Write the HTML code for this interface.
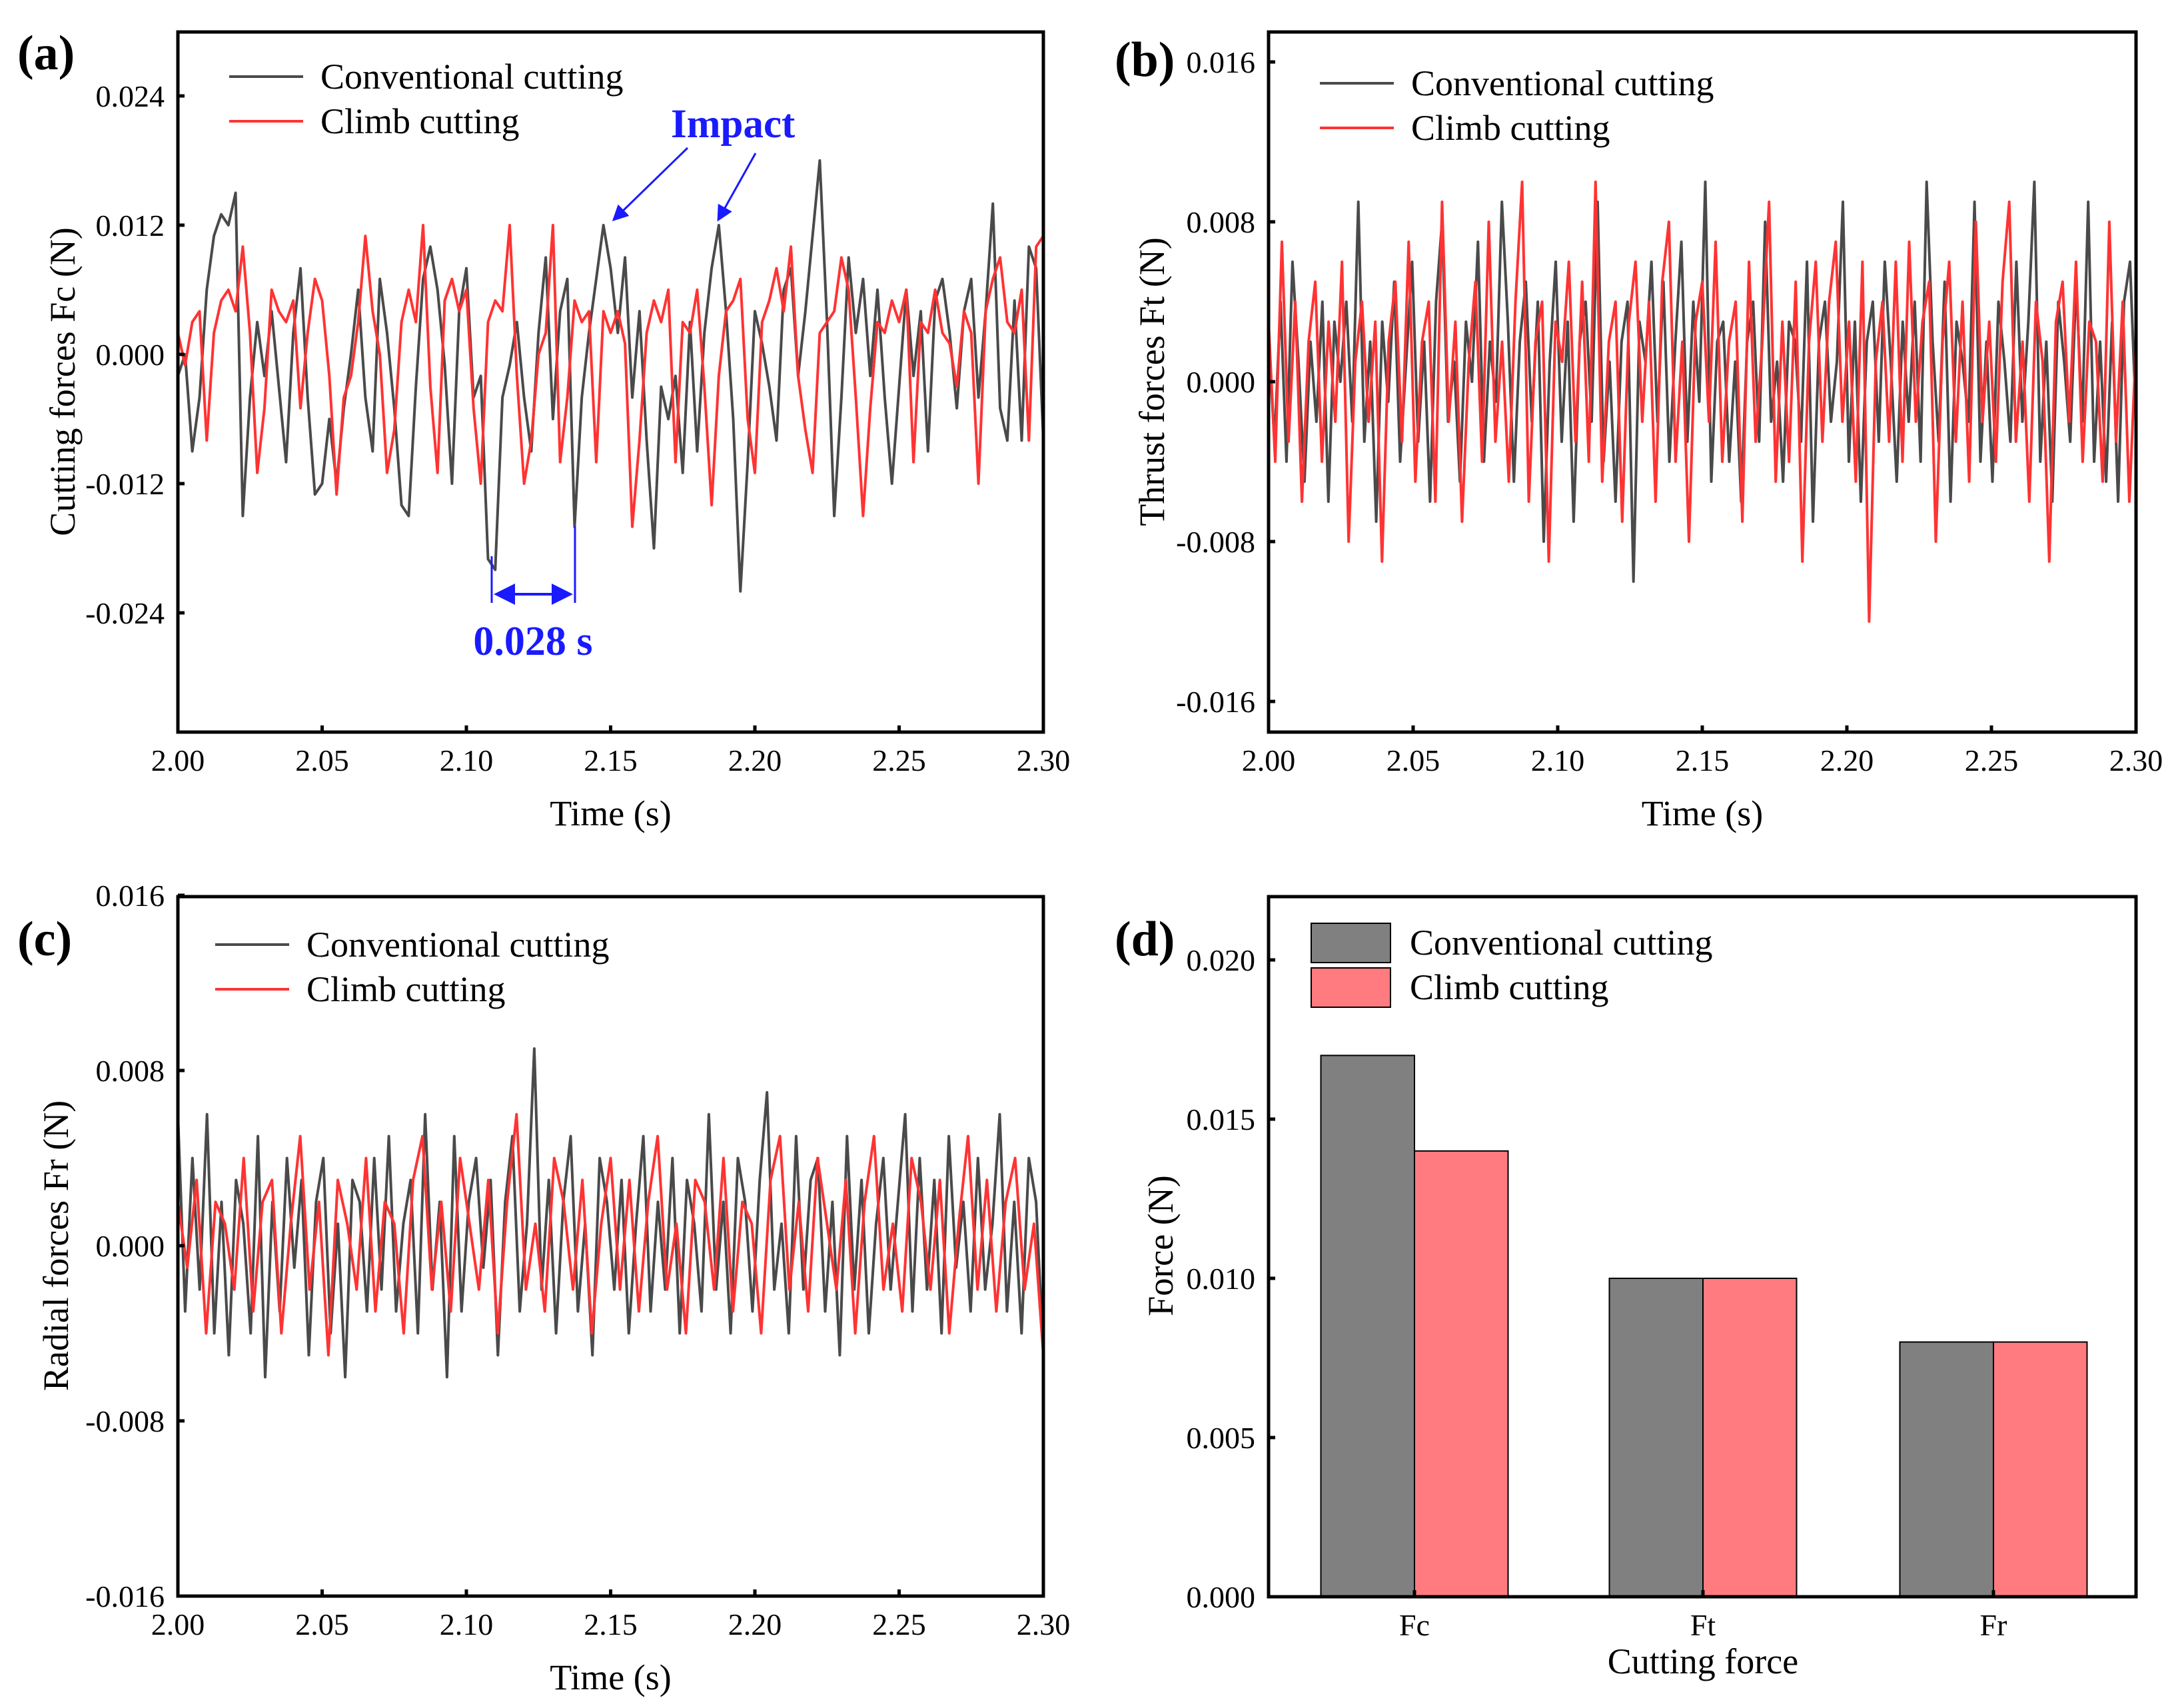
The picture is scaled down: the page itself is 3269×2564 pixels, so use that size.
<!DOCTYPE html>
<html><head><meta charset="utf-8"><style>
html,body{margin:0;padding:0;background:#fff}
svg{display:block;font-family:"Liberation Serif",serif}
</style></head><body>
<svg id="fig" width="3269" height="2564" viewBox="0 0 3269 2564" xmlns="http://www.w3.org/2000/svg"></svg>
<script>
const timeTicks=["2.00","2.05","2.10","2.15","2.20","2.25","2.30"];
const fcTicks=[0.024,0.012,0,-0.012,-0.024];
const ftTicks=[0.016,0.008,0,-0.008,-0.016];
const frTicks=[0.016,0.008,0,-0.008,-0.016];
const barTicks=[0,0.005,0.010,0.015,0.020];
const barCategories=["Fc","Ft","Fr"];
const barConventional=[0.017,0.010,0.008];
const barClimb=[0.014,0.010,0.008];
const fcConv=[-0.002,0.000,-0.009,-0.004,0.006,0.011,0.013,0.012,0.015,-0.015,-0.004,0.003,-0.002,0.004,-0.003,-0.010,0.002,0.008,-0.004,-0.013,-0.012,-0.006,-0.012,-0.005,0.000,0.006,-0.004,-0.009,0.007,0.002,-0.005,-0.014,-0.015,-0.003,0.007,0.010,0.006,-0.001,-0.012,0.004,0.008,-0.004,-0.002,-0.019,-0.020,-0.004,-0.001,0.003,-0.004,-0.009,0.002,0.009,-0.006,0.004,0.007,-0.016,-0.004,0.002,0.007,0.012,0.008,0.002,0.009,-0.004,0.004,-0.008,-0.018,-0.003,-0.006,-0.002,-0.011,0.003,-0.009,0.002,0.008,0.012,0.004,-0.006,-0.022,-0.010,0.004,0.001,-0.003,-0.008,0.006,0.008,-0.002,0.004,0.011,0.018,0.003,-0.015,-0.004,0.009,0.002,0.007,-0.002,0.006,-0.004,-0.012,-0.003,0.006,-0.002,0.004,-0.009,0.005,0.007,0.002,-0.005,0.004,0.007,-0.004,0.004,0.014,-0.005,-0.008,0.005,-0.008,0.010,0.008,-0.008];
const fcClimb=[0.002,-0.001,0.003,0.004,-0.008,0.002,0.005,0.006,0.004,0.010,0.002,-0.011,-0.005,0.006,0.004,0.003,0.005,-0.005,0.002,0.007,0.005,-0.002,-0.013,-0.004,-0.002,0.003,0.011,0.004,0.000,-0.011,-0.007,0.003,0.006,0.003,0.012,-0.003,-0.011,0.005,0.007,0.004,0.006,-0.005,-0.012,0.003,0.005,0.004,0.012,-0.002,-0.012,-0.008,0.000,0.002,0.012,-0.010,-0.004,0.005,0.003,0.004,-0.010,0.004,0.002,0.004,0.001,-0.016,-0.008,0.002,0.005,0.003,0.006,-0.010,0.003,0.002,0.006,-0.003,-0.014,-0.002,0.004,0.005,0.007,-0.006,-0.011,0.003,0.005,0.008,0.004,0.010,-0.002,-0.007,-0.011,0.002,0.003,0.004,0.009,0.006,-0.004,-0.015,-0.005,0.003,0.002,0.005,0.003,0.006,-0.010,0.003,0.002,0.006,0.002,0.001,-0.003,0.004,0.002,-0.012,0.004,0.007,0.009,0.003,0.002,0.006,-0.008,0.010,0.011];
const ftConv=[0.002,-0.003,0.004,-0.004,0.006,0.001,-0.005,0.002,-0.002,0.004,-0.006,0.003,0.000,0.004,-0.002,0.009,-0.003,0.002,-0.007,0.003,-0.001,0.005,-0.004,0.001,0.006,-0.003,0.002,-0.006,0.004,0.008,-0.002,0.001,-0.005,0.003,0.000,0.007,-0.004,0.002,-0.001,0.009,0.003,-0.005,0.002,0.005,-0.002,0.004,-0.008,0.001,0.006,-0.003,0.003,-0.007,0.002,0.004,-0.002,0.009,-0.004,0.001,-0.006,0.002,0.004,-0.010,0.003,0.001,0.006,-0.002,0.005,-0.004,0.002,0.007,-0.003,0.004,-0.001,0.010,-0.005,0.002,0.003,-0.004,0.001,-0.006,0.002,0.004,-0.003,0.008,-0.002,0.001,-0.005,0.003,0.002,-0.003,0.006,-0.007,0.002,0.004,-0.002,0.001,0.009,-0.004,0.003,-0.006,0.002,0.004,-0.003,0.006,0.001,-0.005,0.003,-0.002,0.004,-0.004,0.010,0.002,-0.003,0.005,-0.006,0.003,0.001,-0.002,0.009,-0.004,0.002,-0.005,0.004,0.001,-0.003,0.006,-0.002,0.003,0.010,-0.004,0.002,-0.006,0.004,0.001,-0.003,0.005,-0.002,0.009,-0.004,0.002,-0.005,0.003,-0.006,0.004,0.006,-0.002];
const ftClimb=[0.003,-0.004,0.007,-0.003,0.004,-0.006,0.002,0.005,-0.004,0.003,-0.002,0.006,-0.008,0.001,0.004,-0.002,0.003,-0.009,0.002,0.005,-0.003,0.007,-0.005,0.002,0.004,-0.006,0.009,-0.002,0.003,-0.007,0.001,0.005,-0.004,0.008,-0.003,0.002,-0.005,0.004,0.010,-0.006,0.002,0.004,-0.009,0.003,0.001,0.006,-0.003,0.005,-0.004,0.010,-0.005,0.002,0.004,-0.007,0.003,0.006,-0.002,0.004,-0.006,0.005,0.008,-0.004,0.002,-0.008,0.003,0.005,-0.002,0.007,-0.004,0.002,0.004,-0.007,0.006,-0.003,0.002,0.009,-0.005,0.003,-0.004,0.005,-0.009,0.002,0.006,-0.003,0.004,0.007,-0.002,0.003,-0.005,0.006,-0.012,0.001,0.004,-0.003,0.006,-0.004,0.007,-0.002,0.003,0.005,-0.008,0.002,0.006,-0.003,0.004,-0.005,0.008,-0.002,0.003,-0.004,0.005,0.009,-0.003,0.002,-0.006,0.004,0.001,-0.009,0.003,0.005,-0.002,0.006,-0.004,0.003,0.002,-0.005,0.008,-0.003,0.004,-0.006,0.002];
const frConv=[0.006,-0.003,0.004,-0.002,0.006,-0.004,0.002,-0.005,0.003,0.001,-0.004,0.005,-0.006,0.002,-0.003,0.004,-0.001,0.003,-0.005,0.002,0.004,-0.004,0.001,-0.006,0.003,0.002,-0.003,0.004,-0.002,0.005,-0.003,0.001,0.003,-0.004,0.006,-0.002,0.002,-0.006,0.005,-0.003,0.002,0.004,-0.001,0.003,-0.005,0.002,0.005,-0.003,0.001,0.009,-0.002,0.003,-0.004,0.002,0.005,-0.003,0.001,-0.005,0.004,0.002,-0.002,0.003,-0.004,0.001,0.005,-0.003,0.002,-0.002,0.004,-0.004,0.003,0.001,-0.003,0.006,-0.002,0.002,-0.004,0.004,0.002,-0.003,0.003,0.007,-0.002,0.001,-0.004,0.005,-0.002,0.003,0.004,-0.003,0.002,-0.005,0.005,-0.002,0.003,-0.004,0.001,0.004,-0.002,0.002,0.006,-0.003,0.004,-0.002,0.003,-0.004,0.005,-0.001,0.002,-0.003,0.004,-0.002,0.001,0.006,-0.003,0.002,-0.004,0.004,0.002,-0.005];
const frClimb=[0.002,-0.001,0.003,-0.004,0.002,0.001,-0.002,0.004,-0.003,0.002,0.003,-0.004,0.001,0.005,-0.002,0.002,-0.005,0.003,0.001,-0.002,0.004,-0.003,0.002,0.001,-0.004,0.003,0.005,-0.002,0.002,-0.003,0.004,0.001,-0.002,0.003,-0.004,0.002,0.006,-0.002,0.001,-0.003,0.004,0.002,-0.002,0.003,-0.004,0.001,0.004,-0.002,0.003,-0.003,0.002,0.005,-0.002,0.001,-0.004,0.003,0.002,-0.002,0.004,-0.003,0.002,0.001,-0.004,0.003,0.005,-0.002,0.002,-0.003,0.004,0.001,-0.002,0.003,-0.004,0.002,0.005,-0.002,0.001,-0.003,0.004,0.002,-0.002,0.003,-0.004,0.001,0.005,-0.002,0.003,-0.003,0.002,0.004,-0.002,0.001,-0.005];

const NS="http://www.w3.org/2000/svg";
const svg=document.getElementById('fig');
function mk(tag,attrs,parent,text){const e=document.createElementNS(NS,tag);for(const k in attrs)e.setAttribute(k,attrs[k]);if(text!==undefined)e.textContent=text;(parent||svg).appendChild(e);return e;}
const DARK="#4a4a4a",RED="#ff3333";
const TICKF=46,TITLEF=54,LEGF=54,LABF=74;

function linePanel(p){
  const g=mk('g',{});
  
  
  const xs=t=>p.x0+(t-2.0)/0.3*(p.x1-p.x0);
  const ys=v=>p.yz-v/p.unit*p.upx;
  const clip='clip-'+p.name;
  const cp=mk('clipPath',{id:clip},g);mk('rect',{x:p.x0,y:p.y0,width:p.x1-p.x0,height:p.y1-p.y0},cp);
  [[p.conv,DARK,'conventional-series'],[p.climb,RED,'climb-series']].forEach(([arr,col,nm])=>{
    const n=arr.length;let d='';
    arr.forEach((v,i)=>{d+=(i?'L':'M')+xs(2.0+0.3*i/(n-1)).toFixed(1)+','+ys(v).toFixed(1);});
    const pa=mk('path',{d:d,fill:'none',stroke:col,'stroke-width':4,'stroke-linejoin':'round','clip-path':'url(#'+clip+')'},g);
    
    
  });
  mk('rect',{x:p.x0,y:p.y0,width:p.x1-p.x0,height:p.y1-p.y0,fill:'none',stroke:'#000','stroke-width':5},g);
  timeTicks.forEach(t=>{const x=xs(parseFloat(t));
    mk('line',{x1:x,x2:x,y1:p.y1,y2:p.y1-10,stroke:'#000','stroke-width':5},g);
    const tx=mk('text',{x:x,y:p.y1+58,'font-size':TICKF,'text-anchor':'middle'},g,t);
    
    });
  p.ticks.forEach(v=>{const y=ys(v);
    mk('line',{x1:p.x0,x2:p.x0+10,y1:y,y2:y,stroke:'#000','stroke-width':5},g);
    const tx=mk('text',{x:p.x0-20,y:y+16,'font-size':TICKF,'text-anchor':'end'},g,v===0?'0.000':v.toFixed(3));
    
    });
  const xt=mk('text',{x:(p.x0+p.x1)/2,y:p.y1+140,'font-size':TITLEF,'text-anchor':'middle'},g,'Time (s)');
  
  
  const yt=mk('text',{x:0,y:0,'font-size':TITLEF,'text-anchor':'middle',transform:`translate(${p.ytx},${p.yty}) rotate(-90)`},g,p.ytitle);
  
  
  const pl=mk('text',{x:p.lx,y:p.ly,'font-size':LABF,'font-weight':'bold'},g,p.label);
  
  
  [[DARK,'Conventional cutting',p.lgy],[RED,'Climb cutting',p.lgy+67]].forEach(([c,t,y])=>{
    const le=mk('g',{},g);
    
    
    mk('line',{x1:p.lgx,x2:p.lgx+111,y1:y,y2:y,stroke:c,'stroke-width':4},le);
    mk('text',{x:p.lgx+137,y:y+18,'font-size':LEGF},le,t);
  });
}

linePanel({name:'panel-a-cutting-forces',x0:267,x1:1566,y0:48,y1:1099,yz:532,unit:0.012,upx:194,ticks:fcTicks,conv:fcConv,climb:fcClimb,ytitle:'Cutting forces Fc (N)',ytx:112,yty:573,label:'(a)',lx:26,ly:104,lgx:344,lgy:115});
linePanel({name:'panel-b-thrust-forces',x0:1904,x1:3206,y0:48,y1:1099,yz:573,unit:0.008,upx:240,ticks:ftTicks,conv:ftConv,climb:ftClimb,ytitle:'Thrust forces Ft (N)',ytx:1747,yty:573,label:'(b)',lx:1673,ly:114,lgx:1981,lgy:125});
linePanel({name:'panel-c-radial-forces',x0:267,x1:1566,y0:1346,y1:2396,yz:1870,unit:0.008,upx:263,ticks:frTicks,conv:frConv,climb:frClimb,ytitle:'Radial forces Fr (N)',ytx:102,yty:1870,label:'(c)',lx:26,ly:1434,lgx:323,lgy:1418});

const defs=mk('defs',{});
const m1=mk('marker',{id:'ah',markerWidth:8,markerHeight:8,refX:7,refY:4,orient:'auto',markerUnits:'strokeWidth'},defs);
mk('path',{d:'M0,0 L8,4 L0,8 z',fill:'#1a1aff'},m1);
const m2=mk('marker',{id:'ah2',markerWidth:8,markerHeight:8,refX:1,refY:4,orient:'auto',markerUnits:'strokeWidth'},defs);
mk('path',{d:'M8,0 L0,4 L8,8 z',fill:'#1a1aff'},m2);

const ann=mk('g',{});


mk('text',{x:1007,y:206,'font-size':61,'font-weight':'bold',fill:'#1a1aff'},ann,'Impact');
mk('line',{x1:1032,y1:222,x2:921,y2:330,stroke:'#1a1aff','stroke-width':3,'marker-end':'url(#ah)'},ann);
mk('line',{x1:1134,y1:230,x2:1078,y2:330,stroke:'#1a1aff','stroke-width':3,'marker-end':'url(#ah)'},ann);
const per=mk('g',{});


mk('line',{x1:738,y1:835,x2:738,y2:905,stroke:'#1a1aff','stroke-width':3},per);
mk('line',{x1:863,y1:790,x2:863,y2:905,stroke:'#1a1aff','stroke-width':3},per);
mk('line',{x1:745,y1:892,x2:856,y2:892,stroke:'#1a1aff','stroke-width':4,'marker-end':'url(#ah)','marker-start':'url(#ah2)'},per);
mk('text',{x:800,y:983,'font-size':62,'font-weight':'bold',fill:'#1a1aff','text-anchor':'middle'},per,'0.028 s');

(function(){
  const g=mk('g',{});
  
  
  const X0=1904,X1=3206,Y0=1346,Y1=2397;
  const ys=v=>Y1-v/0.005*239;
  const centers=[2123,2556,2992];const bw=140.5;
  barCategories.forEach((c,i)=>{
    const cx=centers[i];
    const r1=mk('rect',{x:cx-bw,y:ys(barConventional[i]),width:bw,height:Y1-ys(barConventional[i]),fill:'#808080',stroke:'#000','stroke-width':2},g);
    
    
    const r2=mk('rect',{x:cx,y:ys(barClimb[i]),width:bw,height:Y1-ys(barClimb[i]),fill:'#ff7b7f',stroke:'#000','stroke-width':2},g);
    
    
    mk('line',{x1:cx,x2:cx,y1:Y1,y2:Y1-10,stroke:'#000','stroke-width':5},g);
    const t=mk('text',{x:cx,y:2455,'font-size':TICKF,'text-anchor':'middle'},g,c);
    
    
  });
  mk('rect',{x:X0,y:Y0,width:X1-X0,height:Y1-Y0,fill:'none',stroke:'#000','stroke-width':5},g);
  barTicks.forEach(v=>{const y=ys(v);
    mk('line',{x1:X0,x2:X0+10,y1:y,y2:y,stroke:'#000','stroke-width':5},g);
    const t=mk('text',{x:X0-20,y:y+16,'font-size':TICKF,'text-anchor':'end'},g,v.toFixed(3));
    
    });
  const xt=mk('text',{x:2556,y:2512,'font-size':TITLEF,'text-anchor':'middle'},g,'Cutting force');
  
  
  const yt=mk('text',{x:0,y:0,'font-size':TITLEF,'text-anchor':'middle',transform:'translate(1760,1870) rotate(-90)'},g,'Force (N)');
  
  
  const pl=mk('text',{x:1673,y:1434,'font-size':LABF,'font-weight':'bold'},g,'(d)');
  
  
  [['#808080','Conventional cutting',1386],['#ff7b7f','Climb cutting',1453]].forEach(([c,t,y])=>{
    const le=mk('g',{},g);
    
    
    mk('rect',{x:1968,y:y,width:119,height:59,fill:c,stroke:'#000','stroke-width':2},le);
    mk('text',{x:2116,y:y+47,'font-size':LEGF},le,t);
  });
})();
</script>
</body></html>
